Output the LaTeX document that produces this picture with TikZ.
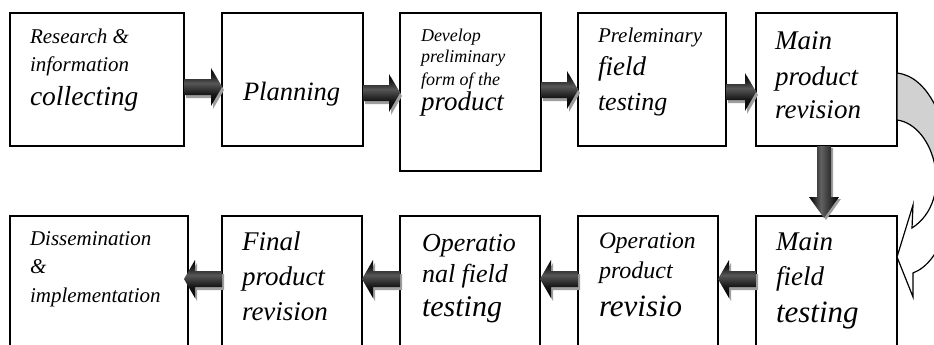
\documentclass[tikz,border=0pt]{standalone}
\usepackage{fontspec}
\setmainfont{Liberation Serif}[ItalicFont=Liberation Serif Italic]
\usetikzlibrary{calc}
\pgfdeclareverticalshading{curvshade}{100bp}{color(0bp)=(white); color(46bp)=(white); color(58bp)=(black!18); color(100bp)=(black!18)}
\pgfdeclareverticalshading{arrshh}{100bp}{color(0bp)=(black); color(25bp)=(black); color(40bp)=(black!92); color(55bp)=(black!66); color(65bp)=(black!88); color(75bp)=(black); color(100bp)=(black)}
\pgfdeclarehorizontalshading{arrshv}{100bp}{color(0bp)=(black); color(25bp)=(black); color(45bp)=(black!62); color(75bp)=(black); color(100bp)=(black)}
\tikzset{
  box/.style={draw=black, line width=1.3pt, fill=white, rectangle, anchor=north west, outer sep=0pt, inner sep=0pt},
  txt/.style={anchor=base west, inner sep=0pt, outer sep=0pt},
  arrshadow/.style={fill=black!38},
  arrshadeh/.style={shading=arrshh},
  arrshadev/.style={shading=arrshv},
  curvarrow/.style={shading=curvshade, draw=black, line width=1.2pt},
}
\newcommand\fs[1]{\fontsize{#1}{#1}\selectfont\itshape}
% horizontal block arrow: tail, tip, direction (1 right / -1 left), dx, dy
\newcommand\harrowpath[5]{($(#1)+(#4,#5-8)$) -- ($(#2)+(#4-11*#3,#5-8)$) -- ($(#2)+(#4-11*#3,#5-19)$) -- ($(#2)+(#4,#5)$) -- ($(#2)+(#4-11*#3,#5+19)$) -- ($(#2)+(#4-11*#3,#5+8)$) -- ($(#1)+(#4,#5+8)$) -- cycle}
% vertical (downward) block arrow: tail, tip, dx, dy
\newcommand\varrowpath[4]{($(#1)+(#3-7,#4)$) -- ($(#2)+(#3-7,#4-21)$) -- ($(#2)+(#3-15,#4-21)$) -- ($(#2)+(#3,#4)$) -- ($(#2)+(#3+15,#4-21)$) -- ($(#2)+(#3+7,#4-21)$) -- ($(#1)+(#3+7,#4)$) -- cycle}
\begin{document}
\begin{tikzpicture}[x=1pt,y=-1pt]
\useasboundingbox (0,0) rectangle (934,345);
\fill[white] (0,0) rectangle (934,345);
\clip (0,0) rectangle (934,345);

% boxes, top row
\node[box, minimum width=174, minimum height=133] (b1) at (10,13) {};
\node[box, minimum width=141, minimum height=133] (b2) at (222,13) {};
\node[box, minimum width=141, minimum height=158] (b3) at (400,13) {};
\node[box, minimum width=148, minimum height=133] (b4) at (578,13) {};
\node[box, minimum width=141, minimum height=133] (b5) at (756,13) {};
% boxes, bottom row
\node[box, minimum width=178, minimum height=150] (b6) at (10,216) {};
\node[box, minimum width=140, minimum height=150] (b7) at (222,216) {};
\node[box, minimum width=140, minimum height=150] (b8) at (400,216) {};
\node[box, minimum width=140, minimum height=150] (b9) at (578,216) {};
\node[box, minimum width=141, minimum height=150] (b10) at (756,216) {};

% curved arrow from b5 to b10
\coordinate (ca) at ($(b5.north east)+(0,60)$);
\coordinate (cb) at ($(b5.north east)+(0,107)$);
\coordinate (ct) at ($(b10.north east)+(0,41)$);
\shadedraw[curvarrow] (ca) .. controls (960,80) and (972,250) .. (913,273) -- (913,297) -- (ct) -- (913,205) -- (912,228) .. controls (955,200) and (935,125) .. (cb) -- cycle;

% arrow levels
\coordinate (y1) at (0,87);
\coordinate (y2) at (0,93);
\coordinate (y3) at (0,90);
\coordinate (y4) at (0,92);
\coordinate (y5) at (0,279);
\coordinate (dx) at (824,0);
\coordinate (a1s) at (b1.east |- y1); \coordinate (a1e) at (b2.west |- y1);
\coordinate (a2s) at (b2.east |- y2); \coordinate (a2e) at (b3.west |- y2);
\coordinate (a3s) at (b3.east |- y3); \coordinate (a3e) at (b4.west |- y3);
\coordinate (a4s) at (b4.east |- y4); \coordinate (a4e) at (b5.west |- y4);
\coordinate (a6s) at (b10.west |- y5); \coordinate (a6e) at (b9.east |- y5);
\coordinate (a7s) at (b9.west |- y5); \coordinate (a7e) at (b8.east |- y5);
\coordinate (a8s) at (b8.west |- y5); \coordinate (a8e) at (b7.east |- y5);
\coordinate (a9s) at (b7.west |- y5); \coordinate (a9e) at ($(b6.east |- y5)+(-4,0)$);
\coordinate (a5s) at (dx |- b5.south); \coordinate (a5e) at ($(dx |- b10.north)+(0,2)$);

% shadows
\fill[arrshadow] \harrowpath{a1s}{a1e}{1}{2}{3};
\fill[arrshadow] \harrowpath{a2s}{a2e}{1}{2}{3};
\fill[arrshadow] \harrowpath{a3s}{a3e}{1}{2}{3};
\fill[arrshadow] \harrowpath{a4s}{a4e}{1}{2}{3};
\fill[arrshadow] \harrowpath{a6s}{a6e}{-1}{2}{3};
\fill[arrshadow] \harrowpath{a7s}{a7e}{-1}{2}{3};
\fill[arrshadow] \harrowpath{a8s}{a8e}{-1}{2}{3};
\fill[arrshadow] \harrowpath{a9s}{a9e}{-1}{2}{3};
\fill[arrshadow] \varrowpath{a5s}{a5e}{2}{2};
% arrows
\shade[arrshadeh] \harrowpath{a1s}{a1e}{1}{0}{0};
\shade[arrshadeh] \harrowpath{a2s}{a2e}{1}{0}{0};
\shade[arrshadeh] \harrowpath{a3s}{a3e}{1}{0}{0};
\shade[arrshadeh] \harrowpath{a4s}{a4e}{1}{0}{0};
\shade[arrshadeh] \harrowpath{a6s}{a6e}{-1}{0}{0};
\shade[arrshadeh] \harrowpath{a7s}{a7e}{-1}{0}{0};
\shade[arrshadeh] \harrowpath{a8s}{a8e}{-1}{0}{0};
\shade[arrshadeh] \harrowpath{a9s}{a9e}{-1}{0}{0};
\shade[arrshadev] \varrowpath{a5s}{a5e}{0}{0};

% texts
\node[txt, font=\fs{21}] (t1a) at (30,44) {Research \&};
\node[txt, font=\fs{21}] (t1b) at (30,71) {information};
\node[txt, font=\fs{27.5}] (t1c) at (30,105) {collecting};

\node[txt, font=\fs{26.5}] (t2a) at (243,100) {Planning};

\node[txt, font=\fs{18}] (t3a) at (421,42) {Develop};
\node[txt, font=\fs{18}] (t3b) at (421,63) {preliminary};
\node[txt, font=\fs{18}] (t3c) at (421,85) {form of the};
\node[txt, font=\fs{27}] (t3d) at (421,110) {product};

\node[txt, font=\fs{21}] (t4a) at (598,43) {Preleminary};
\node[txt, font=\fs{27}] (t4b) at (598,75) {field};
\node[txt, font=\fs{26}] (t4c) at (598,110) {testing};

\node[txt, font=\fs{27}] (t5a) at (775,50) {Main};
\node[txt, font=\fs{27}] (t5b) at (775,85) {product};
\node[txt, font=\fs{27}] (t5c) at (775,118) {revision};

\node[txt, font=\fs{21}] (t6a) at (30,245) {Dissemination};
\node[txt, font=\fs{21}] (t6b) at (30,273) {\&};
\node[txt, font=\fs{21}] (t6c) at (30,302) {implementation};

\node[txt, font=\fs{27}] (t7a) at (242,250) {Final};
\node[txt, font=\fs{27}] (t7b) at (242,285) {product};
\node[txt, font=\fs{27}] (t7c) at (242,320) {revision};

\node[txt, font=\fs{26}] (t8a) at (422,251) {Operatio};
\node[txt, font=\fs{26}] (t8b) at (422,282) {nal field};
\node[txt, font=\fs{30}] (t8c) at (422,316) {testing};

\node[txt, font=\fs{23.5}] (t9a) at (599,248) {Operation};
\node[txt, font=\fs{24}] (t9b) at (599,278) {product};
\node[txt, font=\fs{31}] (t9c) at (599,316) {revisio};

\node[txt, font=\fs{27}] (t10a) at (776,250) {Main};
\node[txt, font=\fs{27}] (t10b) at (776,285) {field};
\node[txt, font=\fs{31}] (t10c) at (776,322) {testing};
\end{tikzpicture}
\end{document}
